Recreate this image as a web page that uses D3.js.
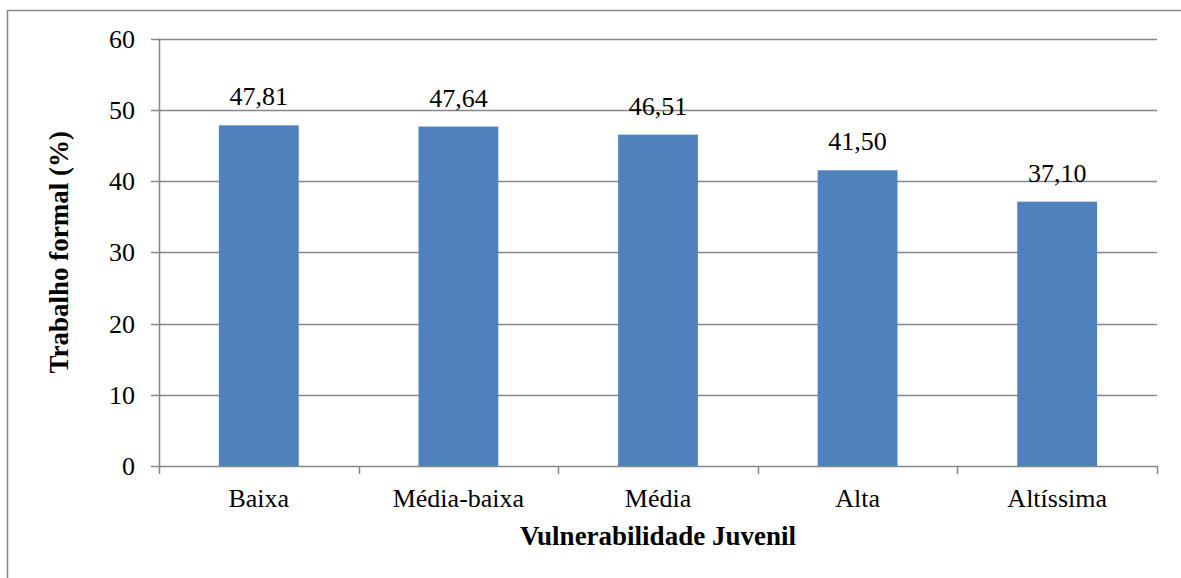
<!DOCTYPE html>
<html>
<head>
<meta charset="utf-8">
<script src="https://cdn.jsdelivr.net/npm/d3@7"></script>
<style>
  body { margin: 0; background: #fff; }
</style>
</head>
<body>
<div id="graphic"></div>
<script>
// data
const categories = ["Baixa", "Média-baixa", "Média", "Alta", "Altíssima"];
const values = [47.81, 47.64, 46.51, 41.50, 37.10];
const yTicks = [0, 10, 20, 30, 40, 50, 60];

const W = 1181, H = 578;
const plot = {left: 159, right: 1157, top: 38.5, bottom: 466};
const gridColor = "#868686";

const svg = d3.select("#graphic")
    .append("svg")
    .attr("width", W)
    .attr("height", H)
    .attr("font-family", "'Liberation Serif', 'Times New Roman', Times, serif");

// outer frame (runs off the right and bottom edges)
svg.append("rect")
    .attr("x", 7.5).attr("y", 10.5)
    .attr("width", W + 10).attr("height", H + 10)
    .attr("fill", "none")
    .attr("stroke", gridColor)
    .attr("stroke-width", 1.5);

const x = d3.scaleBand()
    .domain(categories)
    .range([plot.left, plot.right])
    .paddingInner(0.6)
    .paddingOuter(0.3);

const y = d3.scaleLinear()
    .domain([0, 60])
    .range([plot.bottom, plot.top]);

// gridlines + y ticks
svg.append("g")
    .selectAll("line")
    .data(yTicks)
    .join("line")
    .attr("x1", plot.left - 8)
    .attr("x2", plot.right)
    .attr("y1", d => Math.round(y(d)) + 0.5)
    .attr("y2", d => Math.round(y(d)) + 0.5)
    .attr("stroke", gridColor)
    .attr("stroke-width", 1.5);

svg.append("g")
    .selectAll("text")
    .data(yTicks)
    .join("text")
    .attr("x", 135)
    .attr("y", d => y(d) + 9)
    .attr("text-anchor", "end")
    .attr("font-size", 26)
    .text(d => d);

// y axis line
svg.append("line")
    .attr("x1", plot.left + 0.5).attr("x2", plot.left + 0.5)
    .attr("y1", plot.top).attr("y2", plot.bottom)
    .attr("stroke", gridColor)
    .attr("stroke-width", 1.5);

// x ticks at band boundaries
const step = x.step();
const boundaries = d3.range(categories.length + 1).map(i => plot.left + i * step);
svg.append("g")
    .selectAll("line")
    .data(boundaries)
    .join("line")
    .attr("x1", d => Math.round(d) + 0.5)
    .attr("x2", d => Math.round(d) + 0.5)
    .attr("y1", plot.bottom)
    .attr("y2", plot.bottom + 8)
    .attr("stroke", gridColor)
    .attr("stroke-width", 1.5);

// bars
svg.append("g")
    .selectAll("rect")
    .data(values)
    .join("rect")
    .attr("x", (d, i) => x(categories[i]))
    .attr("y", d => y(d))
    .attr("width", x.bandwidth())
    .attr("height", d => y(0) - y(d))
    .attr("fill", "#4F81BD");

// value labels
const fmt = v => v.toFixed(2).replace(".", ",");
svg.append("g")
    .selectAll("text")
    .data(values)
    .join("text")
    .attr("x", (d, i) => x(categories[i]) + x.bandwidth() / 2)
    .attr("y", d => y(d) - 20)
    .attr("text-anchor", "middle")
    .attr("font-size", 26)
    .text(fmt);

// category labels
svg.append("g")
    .selectAll("text")
    .data(categories)
    .join("text")
    .attr("x", d => x(d) + x.bandwidth() / 2)
    .attr("y", 507)
    .attr("text-anchor", "middle")
    .attr("font-size", 26)
    .text(d => d);

// axis titles
svg.append("text")
    .attr("x", (plot.left + plot.right) / 2)
    .attr("y", 545)
    .attr("text-anchor", "middle")
    .attr("font-size", 27)
    .attr("font-weight", "bold")
    .text("Vulnerabilidade Juvenil");

svg.append("text")
    .attr("transform", `translate(68, ${(plot.top + plot.bottom) / 2}) rotate(-90)`)
    .attr("text-anchor", "middle")
    .attr("font-size", 27)
    .attr("font-weight", "bold")
    .text("Trabalho formal (%)");
</script>
</body>
</html>
